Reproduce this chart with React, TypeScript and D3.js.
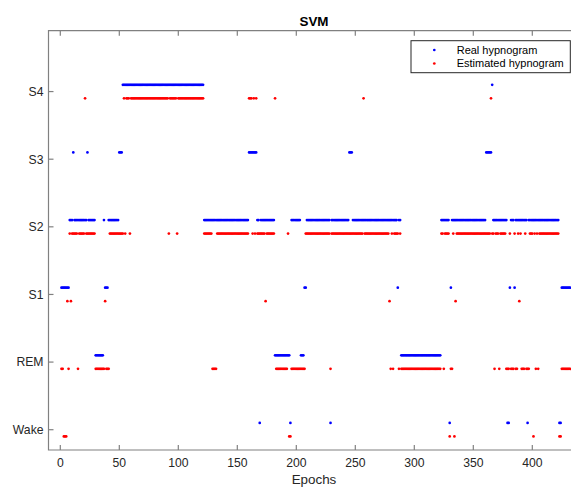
import React, { useEffect, useRef } from 'react';
import * as d3 from 'd3';

// sleep stages, bottom to top
const stageNames = ["Wake", "REM", "S1", "S2", "S3", "S4"];
const xTicks = [0, 50, 100, 150, 200, 250, 300, 350, 400];

// runs of [stage index, first epoch, last epoch]
const realRuns: [number, number, number][] = [
  [2, 1, 7], [3, 8, 10], [4, 11, 11], [3, 12, 22], [4, 23, 23], [3, 24, 29],
  [1, 30, 36], [3, 37, 37], [2, 38, 40], [3, 41, 49], [4, 50, 52], [5, 53, 121],
  [3, 122, 159], [4, 160, 166], [3, 167, 168], [0, 169, 169], [3, 170, 181],
  [1, 182, 194], [0, 195, 195], [3, 196, 203], [1, 204, 206], [2, 207, 208],
  [3, 209, 228], [0, 229, 229], [3, 230, 244], [4, 245, 247], [3, 248, 285],
  [2, 286, 286], [3, 287, 288], [1, 289, 322], [3, 323, 329], [0, 330, 330],
  [2, 331, 331], [3, 332, 360], [4, 361, 365], [5, 366, 366], [3, 367, 378],
  [0, 379, 380], [2, 381, 381], [3, 382, 384], [2, 385, 385], [3, 386, 395],
  [0, 396, 396], [3, 397, 422], [0, 423, 424], [2, 425, 432],
];

const estimatedRuns: [number, number, number][] = [
  [1, 1, 2], [0, 3, 5], [2, 6, 6], [1, 7, 7], [3, 8, 8], [2, 9, 9], [3, 10, 14],
  [1, 15, 15], [3, 16, 20], [5, 21, 21], [3, 22, 29], [1, 30, 37], [2, 38, 38],
  [1, 39, 41], [3, 42, 53], [5, 54, 54], [3, 55, 55], [5, 56, 58], [3, 59, 59],
  [5, 60, 91], [3, 92, 92], [5, 93, 98], [3, 99, 99], [5, 100, 121],
  [3, 122, 128], [1, 129, 132], [3, 133, 159], [5, 160, 162], [3, 163, 163],
  [5, 164, 164], [3, 165, 165], [5, 166, 166], [3, 167, 173], [2, 174, 174],
  [3, 175, 181], [5, 182, 182], [1, 183, 192], [3, 193, 193], [0, 194, 195],
  [1, 196, 207], [3, 208, 228], [1, 229, 229], [3, 230, 256], [5, 257, 257],
  [3, 258, 278], [2, 279, 279], [1, 280, 280], [3, 281, 281], [1, 282, 282],
  [3, 283, 286], [1, 287, 287], [3, 288, 288], [1, 289, 322], [3, 323, 324],
  [1, 325, 325], [3, 326, 329], [0, 330, 330], [1, 331, 332], [3, 333, 333],
  [0, 334, 334], [2, 335, 335], [3, 336, 364], [5, 365, 365], [3, 366, 367],
  [1, 368, 368], [3, 369, 371], [1, 372, 372], [3, 373, 377], [1, 378, 380],
  [3, 381, 381], [1, 382, 384], [3, 385, 385], [1, 386, 387], [3, 388, 388],
  [2, 389, 389], [3, 390, 390], [1, 391, 393], [3, 394, 394], [1, 395, 397],
  [3, 398, 400], [0, 401, 401], [3, 402, 402], [1, 403, 403], [3, 404, 404],
  [1, 405, 405], [3, 406, 422], [0, 423, 424], [1, 425, 432],
];

const width = 571;
const height = 489;
const font = "'Liberation Sans', Arial, Helvetica, sans-serif";

function expand(runs: [number, number, number][]) {
  const pts: { epoch: number; stage: number }[] = [];
  runs.forEach(([stage, from, to]) => {
    for (let e = from; e <= to; e++) pts.push({ epoch: e, stage });
  });
  return pts;
}

function Hypnogram() {
  const svgRef = useRef<SVGSVGElement>(null);

  useEffect(() => {
    const svg = d3.select(svgRef.current);
    svg.selectAll("*").remove();

    const x = d3.scaleLinear().domain([-10, 440]).range([48.5, 579.5]);
    const y = d3.scaleLinear().domain([-0.3, 5.9]).range([450, 30.7]);
    const [x0, x1] = x.range();
    const [yb, yt] = y.range();
    const axisColor = "#808080";
    const textColor = "#262626";

    // dots
    const real = expand(realRuns);
    const est = expand(estimatedRuns);
    svg.append("g").selectAll("circle").data(est).join("circle")
      .attr("cx", d => x(d.epoch)).attr("cy", d => y(d.stage - 0.1))
      .attr("r", 1.35).attr("fill", "#ff0000");
    svg.append("g").selectAll("circle").data(real).join("circle")
      .attr("cx", d => x(d.epoch)).attr("cy", d => y(d.stage + 0.1))
      .attr("r", 1.35).attr("fill", "#0000ff");

    // axes box
    const box = svg.append("g").attr("stroke", axisColor).attr("stroke-width", 1.2).attr("fill", "none");
    box.append("path").attr("d", `M${x0},${yt}V${yb}H${x1}V${yt}Z`);
    xTicks.forEach(t => {
      box.append("line").attr("x1", x(t)).attr("x2", x(t)).attr("y1", yb).attr("y2", yb - 5);
      box.append("line").attr("x1", x(t)).attr("x2", x(t)).attr("y1", yt).attr("y2", yt + 5);
    });
    stageNames.forEach((_, i) => {
      box.append("line").attr("x1", x0).attr("x2", x0 + 5).attr("y1", y(i)).attr("y2", y(i));
    });

    // tick labels
    svg.append("g").selectAll("text").data(xTicks).join("text")
      .attr("x", d => x(d)).attr("y", 467)
      .attr("text-anchor", "middle").attr("font-family", font).attr("font-size", 12.2)
      .attr("fill", textColor).text(d => d);
    svg.append("g").selectAll("text").data(stageNames).join("text")
      .attr("x", 43.5).attr("y", (_, i) => y(i)).attr("dy", "0.36em")
      .attr("text-anchor", "end").attr("font-family", font).attr("font-size", 12.2)
      .attr("fill", textColor).text(d => d);

    svg.append("text").attr("x", (x0 + x1) / 2).attr("y", 484)
      .attr("text-anchor", "middle").attr("font-family", font).attr("font-size", 13.4)
      .attr("fill", textColor).text("Epochs");
    svg.append("text").attr("x", (x0 + x1) / 2).attr("y", 26)
      .attr("text-anchor", "middle").attr("font-family", font).attr("font-size", 13.4)
      .attr("font-weight", "bold").attr("fill", "#000").text("SVM");

    // legend
    const lg = svg.append("g");
    lg.append("rect").attr("x", 411).attr("y", 40.7).attr("width", 159.3).attr("height", 32)
      .attr("fill", "#fff").attr("stroke", textColor).attr("stroke-width", 1);
    const items = [["Real hypnogram", "#0000ff"], ["Estimated hypnogram", "#ff0000"]];
    items.forEach(([label, color], i) => {
      const cy = 50 + i * 13.5;
      lg.append("circle").attr("cx", 434.3).attr("cy", cy).attr("r", 1.35).attr("fill", color);
      lg.append("text").attr("x", 456.7).attr("y", cy).attr("dy", "0.36em")
        .attr("font-family", font).attr("font-size", 11).attr("fill", "#000").text(label);
    });
  }, []);

  return <svg ref={svgRef} width={width} height={height} style={{ position: 'absolute', left: 0, top: 0, overflow: 'hidden' }} />;
}

export default function App() {
  return <Hypnogram />;
}
